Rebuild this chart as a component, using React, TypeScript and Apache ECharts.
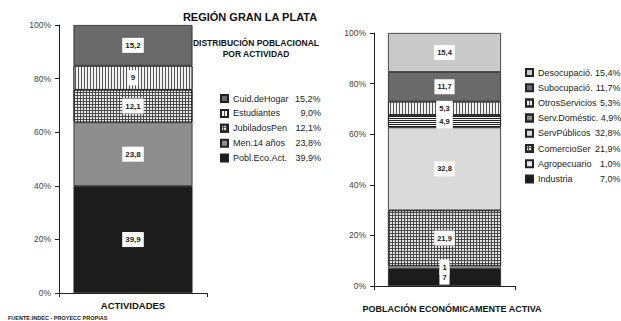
import React, { useEffect, useRef } from "react";
import * as echarts from "echarts";

const leftCategory = ["ACTIVIDADES"];
const leftNames = ["Pobl.Eco.Act.", "Men.14 años", "JubiladosPen", "Estudiantes", "Cuid.deHogar"];
const leftValues = [39.9, 23.8, 12.1, 9.0, 15.2];

const rightCategory = ["POBLACIÓN ECONÓMICAMENTE ACTIVA"];
const rightNames = [
  "Industria",
  "Agropecuario",
  "ComercioSer",
  "ServPúblicos",
  "Serv.Doméstic.",
  "OtrosServicios",
  "Subocupació.",
  "Desocupació.",
];
const rightValues = [7.0, 1.0, 21.9, 32.8, 4.9, 5.3, 11.7, 15.4];

const yTicks = [0, 20, 40, 60, 80, 100];

const FONT = "Arial";

const dark = "#1c1c1c";
const grid = (base: string, cell: string, s = 2) => ({
  color: base,
  decal: { symbol: "rect", symbolSize: 1, dashArrayX: [s, 1], dashArrayY: [s, 1], color: cell, rotation: 0 },
});
const vlines = (base: string, line: string) => ({
  color: base,
  decal: { symbol: "rect", symbolSize: 1, dashArrayX: [1, 2], dashArrayY: [1, 0], color: line, rotation: 0 },
});
const hlines = (base: string, line: string) => ({
  color: base,
  decal: { symbol: "rect", symbolSize: 1, dashArrayX: [1, 0], dashArrayY: [1, 1], color: line, rotation: 0 },
});

const leftStyles: any[] = [
  { color: dark },
  { color: "#8e8e8e" },
  grid("#4a4a4a", "#e8e8e8"),
  vlines("#f2f2f2", "#555"),
  { color: "#6a6a6a" },
];
const rightStyles: any[] = [
  { color: dark },
  { color: "#e6e6e6" },
  grid("#4a4a4a", "#e4e4e4"),
  { color: "#dadada" },
  hlines("#f4f4f4", "#222"),
  vlines("#f2f2f2", "#555"),
  { color: "#6a6a6a" },
  { color: "#cacaca" },
];

const fmtLabel = (v: number) => (Number.isInteger(v) ? String(v) : v.toFixed(1).replace(".", ","));
const fmtPct = (v: number) => v.toFixed(1).replace(".", ",") + "%";

function measure(text: string, font: string) {
  const c = document.createElement("canvas");
  const ctx = c.getContext("2d")!;
  ctx.font = font;
  return ctx.measureText(text).width;
}

export default function App() {
  const ref = useRef<HTMLDivElement>(null);
  useEffect(() => {
    const chart = echarts.init(ref.current!, null, { renderer: "svg" });
    const legendFont = 9;
    const pctMap: Record<string, number> = {};
    leftNames.forEach((n, i) => (pctMap[n] = leftValues[i]));
    rightNames.forEach((n, i) => (pctMap[n] = rightValues[i]));
    const widthFor = (name: string, total: number) =>
      Math.round(Math.max(0, total - measure(name, `${legendFont}px ${FONT}`)));
    const makeFormatter = (total: number) => (name: string) =>
      `{n|${name}}{v${widthFor(name, total)}|${fmtPct(pctMap[name])}}`;
    const richFor = (names: string[], total: number) => {
      const rich: any = { n: { fontSize: legendFont, fontFamily: FONT, color: "#222", lineHeight: 10 } };
      names.forEach((name) => {
        const w = widthFor(name, total);
        rich["v" + w] = { width: w, align: "right", fontSize: legendFont, fontFamily: FONT, color: "#222", lineHeight: 10 };
      });
      return rich;
    };

    const labelCfg = (fs: number) => ({
      show: true,
      position: "inside",
      backgroundColor: "#fff",
      padding: [4, 3, 3, 3],
      fontSize: fs,
      fontWeight: "bold",
      fontFamily: FONT,
      color: "#222",
      formatter: (p: any) => fmtLabel(p.value),
    });

    const series: any[] = [];
    leftNames.forEach((n, i) => {
      series.push({
        name: n,
        type: "bar",
        stack: "left",
        xAxisIndex: 0,
        yAxisIndex: 0,
        barWidth: 119,
        data: [leftValues[i]],
        itemStyle: { ...leftStyles[i], borderColor: "#222", borderWidth: 0.8 },
        label: labelCfg(8),
      });
    });
    rightNames.forEach((n, i) => {
      series.push({
        name: n,
        type: "bar",
        stack: "right",
        xAxisIndex: 1,
        yAxisIndex: 1,
        barWidth: 113,
        data: [rightValues[i]],
        itemStyle: { ...rightStyles[i], borderColor: "#222", borderWidth: 0.8 },
        label: labelCfg(7.5),
      });
    });

    const yAxisCfg = (gi: number) => ({
      type: "value",
      gridIndex: gi,
      min: yTicks[0],
      max: yTicks[yTicks.length - 1],
      interval: yTicks[1] - yTicks[0],
      axisLine: { show: true, lineStyle: { color: "#222" } },
      axisTick: { show: true, length: 4, lineStyle: { color: "#222" } },
      splitLine: { show: false },
      axisLabel: { formatter: "{value}%", fontSize: 8.5, fontFamily: FONT, color: "#444", margin: 8 },
    });
    const xAxisCfg = (gi: number, data: string[], gap: number, pad: number[], fs: number) => ({
      type: "category",
      gridIndex: gi,
      data,
      axisLabel: { show: false },
      axisTick: { show: true, length: 4, lineStyle: { color: "#222" } },
      axisLine: { lineStyle: { color: "#222" } },
      name: data[0],
      nameLocation: "middle",
      nameGap: gap,
      nameTextStyle: { fontWeight: "bold", fontSize: fs, fontFamily: FONT, color: "#111", padding: pad },
    });

    const leftLegendData = [...leftNames].reverse();
    const rightLegendData = [...rightNames].reverse();

    chart.setOption({
      animation: false,
      backgroundColor: "#fff",
      grid: [
        { left: 59, top: 25, width: 148, height: 268 },
        { left: 374, top: 33, width: 141, height: 253 },
      ],
      xAxis: [
        xAxisCfg(0, leftCategory, 7, [0, 0, 0, 0], 9.5),
        xAxisCfg(1, rightCategory, 18, [0, 0, 0, 15], 9),
      ],
      yAxis: [yAxisCfg(0), yAxisCfg(1)],
      legend: [
        {
          orient: "vertical",
          left: 220,
          top: 94,
          padding: 0,
          itemWidth: 7,
          itemHeight: 7,
          itemGap: 5.9,
          icon: "rect",
          data: leftLegendData,
          formatter: makeFormatter(88),
          textStyle: { rich: richFor(leftNames, 88) },
          selectedMode: false,
        },
        {
          orient: "vertical",
          left: 525,
          top: 68,
          padding: 0,
          itemWidth: 7,
          itemHeight: 7,
          itemGap: 6.2,
          icon: "rect",
          data: rightLegendData,
          formatter: makeFormatter(83),
          textStyle: { rich: richFor(rightNames, 83) },
          selectedMode: false,
        },
      ],
      graphic: [
        {
          type: "text",
          x: 250,
          y: 17,
          style: { text: "REGIÓN GRAN LA PLATA", font: `bold 11px ${FONT}`, textAlign: "center", textVerticalAlign: "middle", verticalAlign: "middle", fill: "#111" },
        },
        {
          type: "text",
          x: 256,
          y: 43,
          style: { text: "DISTRIBUCIÓN POBLACIONAL", font: `bold 8.5px ${FONT}`, textAlign: "center", textVerticalAlign: "middle", verticalAlign: "middle", fill: "#111" },
        },
        {
          type: "text",
          x: 256,
          y: 54,
          style: { text: "POR ACTIVIDAD", font: `bold 8.5px ${FONT}`, textAlign: "center", textVerticalAlign: "middle", verticalAlign: "middle", fill: "#111" },
        },
        {
          type: "text",
          x: 8,
          y: 318,
          style: { text: "FUENTE:INDEC - PROYECC PROPIAS", font: `bold 5.5px ${FONT}`, textAlign: "left", textVerticalAlign: "middle", verticalAlign: "middle", fill: "#222" },
        },
      ],
      series,
    });
    return () => chart.dispose();
  }, []);
  return <div ref={ref} style={{ position: "fixed", left: 0, top: 0, width: 621, height: 321 }} />;
}
